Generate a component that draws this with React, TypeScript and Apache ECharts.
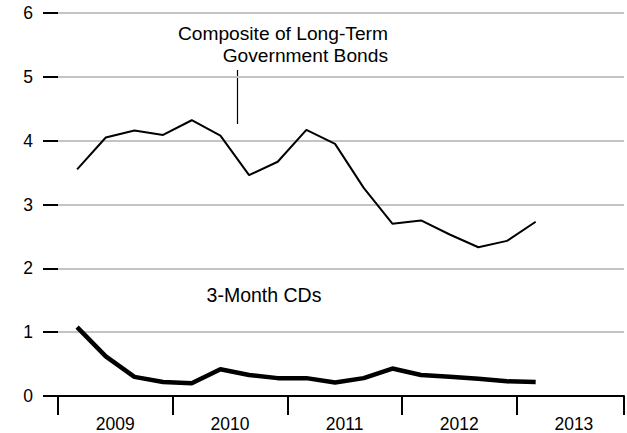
import React, { useEffect, useRef } from "react";
import * as echarts from "echarts";

// Observation months (year-month)
const months = [
  "2009-03", "2009-06", "2009-09", "2009-12",
  "2010-03", "2010-06", "2010-09", "2010-12",
  "2011-03", "2011-06", "2011-09", "2011-12",
  "2012-03", "2012-06", "2012-09", "2012-12",
  "2013-03",
];

// Composite of Long-Term Government Bonds (%)
const longTermBonds = [
  3.55, 4.05, 4.16, 4.09, 4.32, 4.08, 3.46, 3.67, 4.17,
  3.95, 3.26, 2.70, 2.75, 2.53, 2.33, 2.43, 2.73,
];

// 3-Month CDs (%)
const cds3Month = [
  1.08, 0.62, 0.30, 0.22, 0.20, 0.42, 0.33, 0.28, 0.28,
  0.21, 0.28, 0.43, 0.33, 0.30, 0.27, 0.23, 0.22,
];

const yearTicks = [2009, 2010, 2011, 2012, 2013];
const yTicks = [0, 1, 2, 3, 4, 5, 6];

const FONT = "'Liberation Sans', Arial, Helvetica, sans-serif";

function toYear(m: string): number {
  const [y, mo] = m.split("-").map(Number);
  return y + (mo - 1) / 12;
}

export default function App() {
  const ref = useRef<HTMLDivElement>(null);

  useEffect(() => {
    if (!ref.current) return;
    const chart = echarts.init(ref.current, null, { renderer: "svg" });
    const xs = months.map(toYear);
    const xMin = yearTicks[0];
    const xMax = yearTicks[0] + 569 / 115.25;

    chart.setOption({
      animation: false,
      backgroundColor: "#ffffff",
      textStyle: { fontFamily: FONT },
      grid: { left: 58, right: 0, top: 13, bottom: 36, containLabel: false },
      xAxis: [
        {
          type: "value",
          position: "bottom",
          min: xMin,
          max: xMax,
          interval: 1,
          axisLine: { show: true, onZero: false, lineStyle: { color: "#000", width: 2 } },
          axisTick: { show: true, inside: false, length: 19, lineStyle: { color: "#000", width: 2 } },
          axisLabel: { show: false },
          splitLine: { show: false },
        },
        {
          type: "value",
          position: "bottom",
          min: xMin,
          max: xMax,
          interval: 0.5,
          axisLine: { show: false },
          axisTick: { show: false },
          splitLine: { show: false },
          axisLabel: {
            show: true,
            margin: 19,
            fontSize: 17.5,
            color: "#000",
            fontFamily: FONT,
            formatter: (v: number) => {
              const h = Math.round(v * 2);
              if (h % 2 !== 1) return "";
              const yr = Math.floor(v);
              return yearTicks.indexOf(yr) >= 0 ? String(yr) : "";
            },
          },
        },
      ],
      yAxis: {
        type: "value",
        min: yTicks[0],
        max: yTicks[yTicks.length - 1],
        interval: 1,
        axisLine: { show: false },
        axisTick: { show: true, inside: false, length: 15, lineStyle: { color: "#000", width: 2 } },
        axisLabel: { show: true, margin: 25, fontSize: 17.5, color: "#000", fontFamily: FONT },
        splitLine: { show: true, lineStyle: { color: "#c4c4c4", width: 2 } },
      },
      series: [
        {
          name: "Composite of Long-Term Government Bonds",
          type: "line",
          xAxisIndex: 0,
          data: xs.map((x, i) => [x, longTermBonds[i]]),
          symbol: "none",
          lineStyle: { color: "#000", width: 2 },
          z: 5,
        },
        {
          name: "3-Month CDs",
          type: "line",
          xAxisIndex: 0,
          data: xs.map((x, i) => [x, cds3Month[i]]),
          symbol: "none",
          lineStyle: { color: "#000", width: 4.5 },
          z: 5,
        },
      ],
      graphic: [
        {
          type: "text",
          x: 388,
          y: 22,
          style: {
            text: "Composite of Long-Term\nGovernment Bonds",
            align: "right",
            verticalAlign: "top",
            fontSize: 19.2,
            lineHeight: 22,
            fontFamily: FONT,
            fill: "#000",
          },
        },
        {
          type: "line",
          shape: { x1: 237.5, y1: 70, x2: 237.5, y2: 124 },
          style: { stroke: "#000", lineWidth: 1.2 },
        },
        {
          type: "text",
          x: 264,
          y: 295,
          style: {
            text: "3-Month CDs",
            align: "center",
            verticalAlign: "middle",
            fontSize: 19.5,
            fontFamily: FONT,
            fill: "#000",
          },
        },
      ],
    });

    return () => chart.dispose();
  }, []);

  return (
    <div
      ref={ref}
      style={{ position: "fixed", left: 0, top: 0, width: 627, height: 433, background: "#fff" }}
    />
  );
}
